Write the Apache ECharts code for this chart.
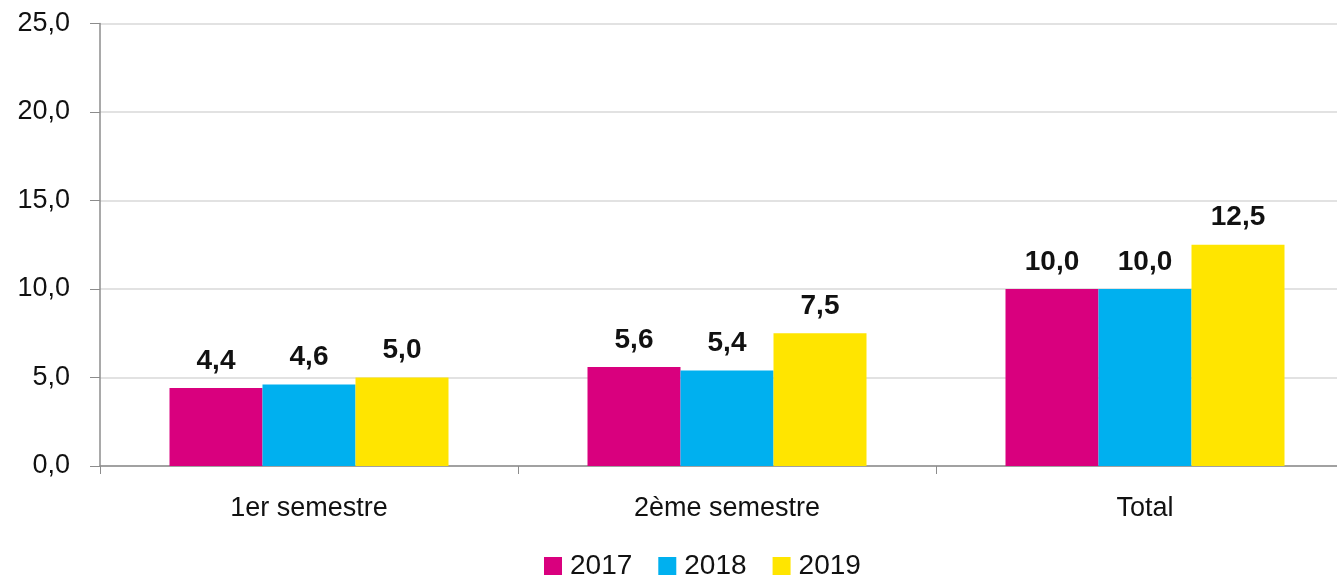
<!DOCTYPE html>
<html>
<head>
<meta charset="utf-8">
<script src="https://cdn.jsdelivr.net/npm/echarts@6/dist/echarts.min.js"></script>
<style>
  html, body { margin: 0; padding: 0; background: #fff; }
  #main { width: 1337px; height: 579px; }
</style>
</head>
<body>
<div id="main"></div>
<script>
var categories = ['1er semestre', '2ème semestre', 'Total'];
var years = ['2017', '2018', '2019'];
var values2017 = [4.4, 5.6, 10.0];
var values2018 = [4.6, 5.4, 10.0];
var values2019 = [5.0, 7.5, 12.5];
var colors = ['#D9007E', '#00B0EF', '#FFE500'];

var chartDom = document.getElementById('main');
var myChart = echarts.init(chartDom, null, { renderer: 'canvas' });

function fmt(v) {
  return Number(v).toFixed(1).replace('.', ',');
}

var fontFam = '"Liberation Sans", "DejaVu Sans", sans-serif';
var seriesData = [values2017, values2018, values2019];
var series = [];
for (let i = 0; i < years.length; i++) {
  series.push({
    name: years[i],
    type: 'bar',
    data: seriesData[i],
    barWidth: 93,
    barGap: '0%',
    itemStyle: { color: colors[i] },
    label: {
      show: true,
      position: 'top',
      distance: 13,
      formatter: function (p) { return fmt(p.value); },
      fontFamily: fontFam,
      fontWeight: 'bold',
      fontSize: 28,
      color: '#111'
    }
  });
}

var option = {
  animation: false,
  color: colors,
  grid: {
    left: 100,
    top: 23.5,
    right: -17,
    height: 442.5,
    outerBoundsMode: 'none',
    containLabel: false
  },
  legend: {
    data: years,
    left: 539,
    top: 547,
    itemWidth: 18,
    itemHeight: 18,
    itemGap: 26,
    icon: 'rect',
    textStyle: { fontFamily: fontFam, fontSize: 28, color: '#111', padding: [0, 0, 0, 3] }
  },
  xAxis: {
    type: 'category',
    data: categories,
    axisLine: { lineStyle: { color: '#8c8c8c', width: 1.5 } },
    axisTick: { show: true, length: 8, lineStyle: { color: '#8c8c8c' } },
    axisLabel: {
      margin: 29,
      fontFamily: fontFam,
      fontSize: 27,
      color: '#111'
    }
  },
  yAxis: {
    type: 'value',
    min: 0,
    max: 25,
    interval: 5,
    axisLine: { show: true, lineStyle: { color: '#8c8c8c', width: 1.5 } },
    axisTick: { show: true, length: 10, lineStyle: { color: '#8c8c8c' } },
    splitLine: { lineStyle: { color: '#d9d9d9', width: 1.5 } },
    axisLabel: {
      margin: 30,
      formatter: fmt,
      fontFamily: fontFam,
      fontSize: 27,
      color: '#111'
    }
  },
  series: series
};

myChart.setOption(option);
</script>
</body>
</html>
